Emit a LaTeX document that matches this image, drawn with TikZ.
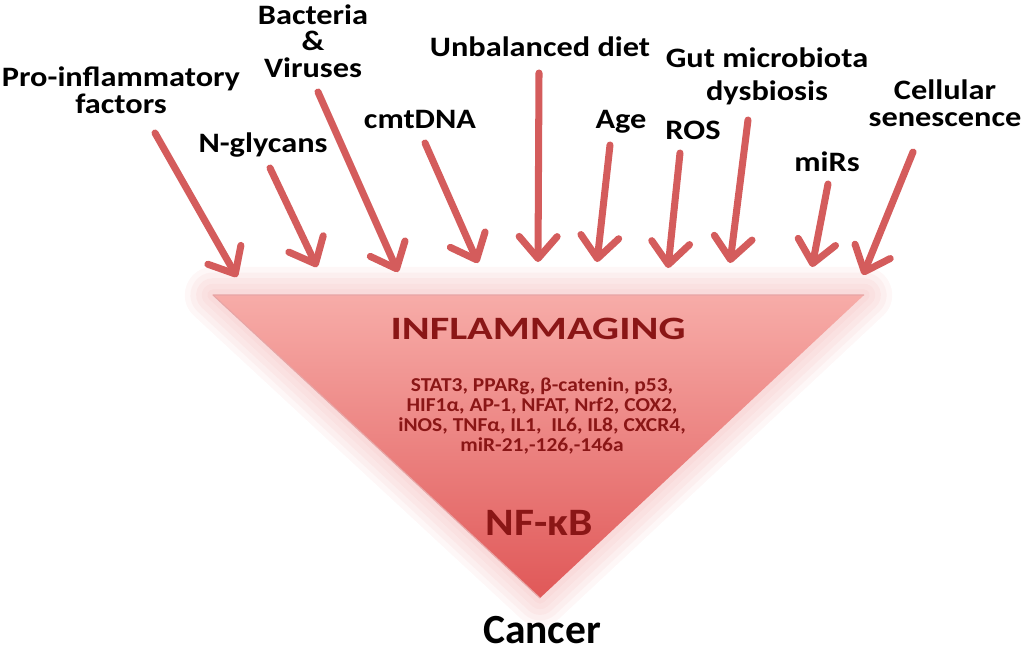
\documentclass[tikz,border=0pt]{standalone}
\usepackage{fontspec}
\setmainfont{Carlito}
\newfontfamily\factorfont{Carlito}[FakeStretch=1.15]
\newfontfamily\headfont{Carlito}[FakeStretch=1.3]
\newfontfamily\genefont{Carlito}[FakeStretch=1.09]
\newfontfamily\kbfont{Carlito}[FakeStretch=1.12]
\usetikzlibrary{arrows.meta}
\definecolor{arrowred}{RGB}{212,92,92}
\definecolor{textred}{RGB}{138,22,22}
\definecolor{tritop}{RGB}{247,172,168}
\definecolor{tribot}{RGB}{224,88,88}
\definecolor{glowred}{RGB}{236,136,136}
\tikzstyle{factor}=[font=\factorfont\bfseries\fontsize{20}{19}\selectfont,align=center,inner sep=0pt]
\tikzstyle{cause}=[line width=5pt,color=arrowred,line cap=round,-{Straight Barb[length=5.5mm,width=9.5mm,round]}]
\tikzstyle{intext}=[text=textred,inner sep=0pt,align=center]

\begin{document}
\begin{tikzpicture}[x=0.025cm,y=-0.025cm]
            \useasboundingbox (0,0) rectangle (1024,653);

            % triangle
            \coordinate (tl) at (213,295);
            \coordinate (tr) at (864,295);
            \coordinate (ap) at (540,598);
            \foreach \w in {40,32,24,16,8}
                \draw[glowred,line width=\w pt,line join=round,opacity=0.07] (tl) -- (tr) -- (ap) -- cycle;
            \shade[top color=tritop,bottom color=tribot] (tl) -- (tr) -- (ap) -- cycle;
            \draw[arrowred!55,line width=0.8pt,line join=round] (ap) -- (tl) -- (tr);

            \node[intext,anchor=base,font=\headfont\bfseries\fontsize{23.2}{26}\selectfont] (inflam) at (538,339) {INFLAMMAGING};
            \node[intext,font=\genefont\bfseries\fontsize{14}{14.4}\selectfont] (genes) at (542,416)
                {STAT3, PPARg, β-catenin, p53,\\HIF1α, AP-1, NFAT, Nrf2, COX2,\\iNOS, TNFα, IL1,~ IL6, IL8, CXCR4,\\miR-21,-126,-146a};
            \node[intext,anchor=base,font=\kbfont\bfseries\fontsize{27.6}{30}\selectfont] (nfkb) at (539,535) {NF-κB};
            \node[anchor=base,inner sep=0pt,font=\bfseries\fontsize{29.5}{32}\selectfont] (cancer) at (542,643) {Cancer};

            % factors
            \node[factor] (pro) at (121,90) {Pro-inflammatory\\factors};
            \node[factor,anchor=base] (glyc) at (263,152) {N-glycans};
            \node[factor] (bact) at (313,41) {Bacteria\\\&\\Viruses};
            \node[factor,anchor=base] (cmt) at (420,128) {cmtDNA};
            \node[factor,anchor=base] (diet) at (540,56) {Unbalanced diet};
            \node[factor,anchor=base] (age) at (621,128) {Age};
            \node[factor,anchor=base] (ros) at (693,139) {ROS};
            \node[factor] (gut) at (767,76) {Gut microbiota\\[4.5pt]dysbiosis};
            \node[factor,anchor=base] (mirs) at (827,171) {miRs};
            \node[factor] (sen) at (945,103) {Cellular\\senescence};

            % arrows
            \coordinate (pro-t) at (155,133);  \coordinate (pro-h) at (237,277);
            \coordinate (glyc-t) at (270,168); \coordinate (glyc-h) at (317,267);
            \coordinate (bact-t) at (318,92);  \coordinate (bact-h) at (398,272);
            \coordinate (cmt-t) at (425,143);  \coordinate (cmt-h) at (478,263);
            \coordinate (diet-t) at (539,73);  \coordinate (diet-h) at (538,262);
            \coordinate (age-t) at (610,145);  \coordinate (age-h) at (597,262);
            \coordinate (ros-t) at (680,153);  \coordinate (ros-h) at (668,268);
            \coordinate (gut-t) at (748,120);  \coordinate (gut-h) at (730,263);
            \coordinate (mirs-t) at (828,184); \coordinate (mirs-h) at (812,267);
            \coordinate (sen-t) at (913,152);  \coordinate (sen-h) at (863,275);
            \foreach \f in {pro,glyc,bact,cmt,diet,age,ros,gut,mirs,sen}
                \path[cause] (\f-t) edge (\f-h);

        \end{tikzpicture}
\end{document}
